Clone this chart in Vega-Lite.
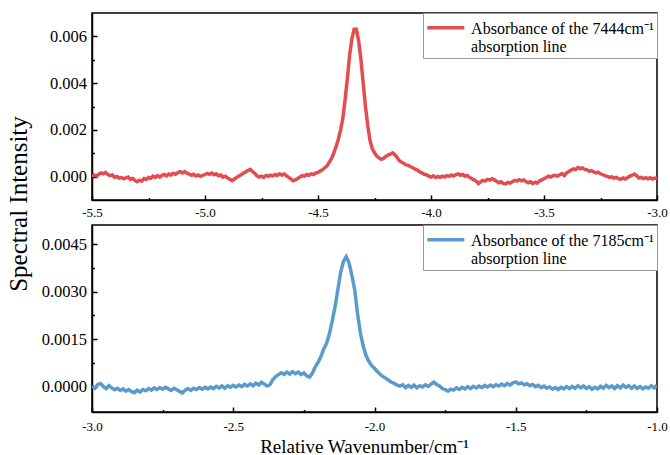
{
  "$schema": "https://vega.github.io/schema/vega-lite/v6.json",
  "padding": {"left": 5, "top": 11, "right": 5, "bottom": 0},
  "background": "white",
  "bounds": "flush",
  "spacing": 25,
  "datasets": {
    "top": [
      {"x":-5.50,"y":0.00002},{"x":-5.49,"y":0.00006},{"x":-5.48,"y":0.00003},{"x":-5.47,"y":0.0001},{"x":-5.46,"y":0.00016},
      {"x":-5.45,"y":0.00012},{"x":-5.44,"y":0.00018},{"x":-5.43,"y":0.00009},{"x":-5.42,"y":0.00004},{"x":-5.41,"y":0.00008},
      {"x":-5.40,"y":-0.00003},{"x":-5.39,"y":0.00001},{"x":-5.38,"y":-0.00006},{"x":-5.37,"y":-0.00004},{"x":-5.36,"y":-0.00009},
      {"x":-5.35,"y":-0.00005},{"x":-5.34,"y":-0.00002},{"x":-5.33,"y":-0.00012},{"x":-5.32,"y":-0.00008},{"x":-5.31,"y":-0.00016},
      {"x":-5.30,"y":-0.00022},{"x":-5.29,"y":-0.00015},{"x":-5.28,"y":-0.00019},{"x":-5.27,"y":-0.00008},{"x":-5.26,"y":-0.00012},
      {"x":-5.25,"y":-0.00004},{"x":-5.24,"y":-0.00007},{"x":-5.23,"y":0.00002},{"x":-5.22,"y":-0.00003},{"x":-5.21,"y":0.00004},
      {"x":-5.20,"y":-0.00002},{"x":-5.19,"y":0.00006},{"x":-5.18,"y":0.00009},{"x":-5.17,"y":0.00003},{"x":-5.16,"y":0.00011},
      {"x":-5.15,"y":0.00007},{"x":-5.14,"y":0.00014},{"x":-5.13,"y":0.0001},{"x":-5.12,"y":0.00017},{"x":-5.11,"y":0.00021},
      {"x":-5.10,"y":0.00016},{"x":-5.09,"y":0.00022},{"x":-5.08,"y":0.00015},{"x":-5.07,"y":0.00011},{"x":-5.06,"y":0.00006},
      {"x":-5.05,"y":0.0001},{"x":-5.04,"y":0.00003},{"x":-5.03,"y":0.00007},{"x":-5.02,"y":0.00001},{"x":-5.01,"y":0.00005},
      {"x":-5.00,"y":0.00009},{"x":-4.99,"y":0.00014},{"x":-4.98,"y":0.0001},{"x":-4.97,"y":0.00015},{"x":-4.96,"y":0.00008},
      {"x":-4.95,"y":0.00012},{"x":-4.94,"y":0.00004},{"x":-4.93,"y":0.00007},{"x":-4.92,"y":-0.00002},{"x":-4.91,"y":0.00002},
      {"x":-4.90,"y":-0.00006},{"x":-4.89,"y":-0.00011},{"x":-4.88,"y":-0.00017},{"x":-4.87,"y":-0.0001},{"x":-4.86,"y":-0.00004},
      {"x":-4.85,"y":0.00003},{"x":-4.84,"y":0.00008},{"x":-4.83,"y":0.00015},{"x":-4.82,"y":0.0002},{"x":-4.81,"y":0.00026},
      {"x":-4.80,"y":0.00031},{"x":-4.79,"y":0.00022},{"x":-4.78,"y":0.00014},{"x":-4.77,"y":0.00003},{"x":-4.76,"y":-0.00002},
      {"x":-4.75,"y":0.00002},{"x":-4.74,"y":-0.00003},{"x":-4.73,"y":0.00005},{"x":-4.72,"y":0.00001},{"x":-4.71,"y":0.00006},
      {"x":-4.70,"y":0.00003},{"x":-4.69,"y":0.00009},{"x":-4.68,"y":0.00005},{"x":-4.67,"y":0.00012},{"x":-4.66,"y":0.00007},
      {"x":-4.65,"y":0.00011},{"x":-4.64,"y":0.00004},{"x":-4.63,"y":-0.00003},{"x":-4.62,"y":-0.0001},{"x":-4.61,"y":-0.00018},
      {"x":-4.60,"y":-0.00014},{"x":-4.59,"y":-0.00008},{"x":-4.58,"y":-0.00002},{"x":-4.57,"y":0.00004},{"x":-4.56,"y":0.00002},
      {"x":-4.55,"y":0.00009},{"x":-4.54,"y":0.00006},{"x":-4.53,"y":0.00012},{"x":-4.52,"y":0.00009},{"x":-4.51,"y":0.00015},
      {"x":-4.50,"y":0.00018},{"x":-4.49,"y":0.00024},{"x":-4.48,"y":0.0003},{"x":-4.47,"y":0.00038},{"x":-4.46,"y":0.00046},
      {"x":-4.45,"y":0.00062},{"x":-4.44,"y":0.00078},{"x":-4.43,"y":0.00102},{"x":-4.42,"y":0.00128},{"x":-4.41,"y":0.0016},
      {"x":-4.40,"y":0.002},{"x":-4.39,"y":0.0025},{"x":-4.38,"y":0.0033},{"x":-4.37,"y":0.0042},{"x":-4.36,"y":0.0052},
      {"x":-4.35,"y":0.0059},{"x":-4.34,"y":0.0063},{"x":-4.33,"y":0.0063},{"x":-4.32,"y":0.0058},{"x":-4.31,"y":0.005},
      {"x":-4.30,"y":0.004},{"x":-4.29,"y":0.003},{"x":-4.28,"y":0.0022},{"x":-4.27,"y":0.00155},{"x":-4.26,"y":0.0012},
      {"x":-4.25,"y":0.00102},{"x":-4.24,"y":0.00088},{"x":-4.23,"y":0.0008},{"x":-4.22,"y":0.00074},{"x":-4.21,"y":0.00078},
      {"x":-4.20,"y":0.00086},{"x":-4.19,"y":0.00092},{"x":-4.18,"y":0.00096},{"x":-4.17,"y":0.00102},{"x":-4.16,"y":0.00094},
      {"x":-4.15,"y":0.00082},{"x":-4.14,"y":0.00068},{"x":-4.13,"y":0.00062},{"x":-4.12,"y":0.00056},{"x":-4.11,"y":0.0005},
      {"x":-4.10,"y":0.00048},{"x":-4.09,"y":0.00042},{"x":-4.08,"y":0.00038},{"x":-4.07,"y":0.00032},{"x":-4.06,"y":0.00028},
      {"x":-4.05,"y":0.0002},{"x":-4.04,"y":0.00016},{"x":-4.03,"y":0.0001},{"x":-4.02,"y":0.00008},{"x":-4.01,"y":0.00002},
      {"x":-4.00,"y":-0.00002},{"x":-3.99,"y":0.00003},{"x":-3.98,"y":-0.00004},{"x":-3.97,"y":0.00001},{"x":-3.96,"y":-0.00003},
      {"x":-3.95,"y":0.00002},{"x":-3.94,"y":-0.00002},{"x":-3.93,"y":0.00004},{"x":-3.92,"y":0.00001},{"x":-3.91,"y":0.00007},
      {"x":-3.90,"y":0.00003},{"x":-3.89,"y":0.00009},{"x":-3.88,"y":0.00012},{"x":-3.87,"y":0.00006},{"x":-3.86,"y":0.00009},
      {"x":-3.85,"y":0.00002},{"x":-3.84,"y":0.00005},{"x":-3.83,"y":-0.00003},{"x":-3.82,"y":-0.00008},{"x":-3.81,"y":-0.00014},
      {"x":-3.80,"y":-0.00019},{"x":-3.79,"y":-0.0003},{"x":-3.78,"y":-0.00022},{"x":-3.77,"y":-0.00016},{"x":-3.76,"y":-0.00019},
      {"x":-3.75,"y":-0.00012},{"x":-3.74,"y":-0.00015},{"x":-3.73,"y":-0.00009},{"x":-3.72,"y":-0.00014},{"x":-3.71,"y":-0.0002},
      {"x":-3.70,"y":-0.00026},{"x":-3.69,"y":-0.00022},{"x":-3.68,"y":-0.00029},{"x":-3.67,"y":-0.00031},{"x":-3.66,"y":-0.00025},
      {"x":-3.65,"y":-0.00028},{"x":-3.64,"y":-0.00022},{"x":-3.63,"y":-0.00016},{"x":-3.62,"y":-0.00019},{"x":-3.61,"y":-0.00013},
      {"x":-3.60,"y":-0.00018},{"x":-3.59,"y":-0.00014},{"x":-3.58,"y":-0.00021},{"x":-3.57,"y":-0.00026},{"x":-3.56,"y":-0.00022},
      {"x":-3.55,"y":-0.0003},{"x":-3.54,"y":-0.00024},{"x":-3.53,"y":-0.00028},{"x":-3.52,"y":-0.00019},{"x":-3.51,"y":-0.00014},
      {"x":-3.50,"y":-0.00009},{"x":-3.49,"y":-0.00004},{"x":-3.48,"y":0.00002},{"x":-3.47,"y":-0.00002},{"x":-3.46,"y":0.00004},
      {"x":-3.45,"y":0.00006},{"x":-3.44,"y":0.00002},{"x":-3.43,"y":0.00008},{"x":-3.42,"y":0.00013},{"x":-3.41,"y":0.00005},
      {"x":-3.40,"y":0.00016},{"x":-3.39,"y":0.00022},{"x":-3.38,"y":0.00028},{"x":-3.37,"y":0.00033},{"x":-3.36,"y":0.0003},
      {"x":-3.35,"y":0.00039},{"x":-3.34,"y":0.00034},{"x":-3.33,"y":0.00037},{"x":-3.32,"y":0.00031},{"x":-3.31,"y":0.00029},
      {"x":-3.30,"y":0.00023},{"x":-3.29,"y":0.00026},{"x":-3.28,"y":0.0002},{"x":-3.27,"y":0.00016},{"x":-3.26,"y":0.00019},
      {"x":-3.25,"y":0.00012},{"x":-3.24,"y":0.00008},{"x":-3.23,"y":0.00004},{"x":-3.22,"y":0.00001},{"x":-3.21,"y":-0.00003},
      {"x":-3.20,"y":-0.00001},{"x":-3.19,"y":-0.00006},{"x":-3.18,"y":-0.00003},{"x":-3.17,"y":-0.00009},{"x":-3.16,"y":-0.00011},
      {"x":-3.15,"y":-0.00006},{"x":-3.14,"y":-0.0001},{"x":-3.13,"y":-0.00004},{"x":-3.12,"y":0.00002},{"x":-3.11,"y":0.00006},
      {"x":-3.10,"y":0.00011},{"x":-3.09,"y":0.00004},{"x":-3.08,"y":-0.00006},{"x":-3.07,"y":-0.00003},{"x":-3.06,"y":-0.00008},
      {"x":-3.05,"y":-0.00004},{"x":-3.04,"y":-0.00009},{"x":-3.03,"y":-0.00005},{"x":-3.02,"y":-0.0001},{"x":-3.01,"y":-0.00006},
      {"x":-3.00,"y":-0.00008}
    ],
    "bottom": [
      {"x":-3.00,"y":0.00002},{"x":-2.99,"y":-0.00005},{"x":-2.98,"y":0.00006},{"x":-2.97,"y":0.0001},{"x":-2.96,"y":0.00001},
      {"x":-2.95,"y":-0.00006},{"x":-2.94,"y":0.00003},{"x":-2.93,"y":-0.00004},{"x":-2.92,"y":-0.0001},{"x":-2.91,"y":-0.00005},
      {"x":-2.90,"y":-0.00012},{"x":-2.89,"y":-0.00007},{"x":-2.88,"y":-0.00014},{"x":-2.87,"y":-0.00009},{"x":-2.86,"y":-0.00016},
      {"x":-2.85,"y":-0.00019},{"x":-2.84,"y":-0.00011},{"x":-2.83,"y":-0.00017},{"x":-2.82,"y":-0.00009},{"x":-2.81,"y":-0.00013},
      {"x":-2.80,"y":-0.00006},{"x":-2.79,"y":-0.00011},{"x":-2.78,"y":-0.00004},{"x":-2.77,"y":-0.00009},{"x":-2.76,"y":-0.00003},
      {"x":-2.75,"y":-0.00008},{"x":-2.74,"y":-0.00002},{"x":-2.73,"y":-0.00007},{"x":-2.72,"y":-0.00012},{"x":-2.71,"y":-0.00005},
      {"x":-2.70,"y":-0.0001},{"x":-2.69,"y":-0.00015},{"x":-2.68,"y":-0.0002},{"x":-2.67,"y":-0.00011},{"x":-2.66,"y":-0.00006},
      {"x":-2.65,"y":-0.00012},{"x":-2.64,"y":-0.00005},{"x":-2.63,"y":-0.00009},{"x":-2.62,"y":-0.00003},{"x":-2.61,"y":-0.00008},
      {"x":-2.60,"y":-0.00002},{"x":-2.59,"y":-0.00007},{"x":-2.58,"y":-0.00001},{"x":-2.57,"y":-0.00006},{"x":-2.56,"y":0.00001},
      {"x":-2.55,"y":-0.00004},{"x":-2.54,"y":0.00002},{"x":-2.53,"y":-0.00005},{"x":-2.52,"y":0.00003},{"x":-2.51,"y":-0.00002},
      {"x":-2.50,"y":0.00004},{"x":-2.49,"y":-0.00001},{"x":-2.48,"y":0.00005},{"x":-2.47,"y":0.0},{"x":-2.46,"y":0.00007},
      {"x":-2.45,"y":0.00002},{"x":-2.44,"y":0.00009},{"x":-2.43,"y":0.00003},{"x":-2.42,"y":0.00011},{"x":-2.41,"y":0.00005},
      {"x":-2.40,"y":0.00014},{"x":-2.39,"y":0.00008},{"x":-2.38,"y":0.00002},{"x":-2.37,"y":0.00006},{"x":-2.36,"y":0.00022},
      {"x":-2.35,"y":0.00032},{"x":-2.34,"y":0.00038},{"x":-2.33,"y":0.00044},{"x":-2.32,"y":0.00039},{"x":-2.31,"y":0.00046},
      {"x":-2.30,"y":0.0004},{"x":-2.29,"y":0.00047},{"x":-2.28,"y":0.00041},{"x":-2.27,"y":0.00046},{"x":-2.26,"y":0.00038},
      {"x":-2.25,"y":0.00043},{"x":-2.24,"y":0.00034},{"x":-2.23,"y":0.0003},{"x":-2.22,"y":0.00042},{"x":-2.21,"y":0.00062},
      {"x":-2.20,"y":0.00076},{"x":-2.19,"y":0.00094},{"x":-2.18,"y":0.00118},{"x":-2.17,"y":0.00136},{"x":-2.16,"y":0.00165},
      {"x":-2.15,"y":0.00205},{"x":-2.14,"y":0.0025},{"x":-2.13,"y":0.00305},{"x":-2.12,"y":0.0036},{"x":-2.11,"y":0.00395},
      {"x":-2.10,"y":0.0041},{"x":-2.09,"y":0.0039},{"x":-2.08,"y":0.0035},{"x":-2.07,"y":0.00305},{"x":-2.06,"y":0.0023},
      {"x":-2.05,"y":0.0017},{"x":-2.04,"y":0.00128},{"x":-2.03,"y":0.00098},{"x":-2.02,"y":0.0008},{"x":-2.01,"y":0.00066},
      {"x":-2.00,"y":0.00058},{"x":-1.99,"y":0.00048},{"x":-1.98,"y":0.00039},{"x":-1.97,"y":0.00032},{"x":-1.96,"y":0.00026},
      {"x":-1.95,"y":0.0002},{"x":-1.94,"y":0.00014},{"x":-1.93,"y":0.0001},{"x":-1.92,"y":0.00005},{"x":-1.91,"y":0.00002},
      {"x":-1.90,"y":0.00006},{"x":-1.89,"y":-0.00003},{"x":-1.88,"y":0.00004},{"x":-1.87,"y":-0.00002},{"x":-1.86,"y":0.00005},
      {"x":-1.85,"y":-0.00004},{"x":-1.84,"y":0.00003},{"x":-1.83,"y":-0.00001},{"x":-1.82,"y":0.00006},{"x":-1.81,"y":0.00001},
      {"x":-1.80,"y":0.00008},{"x":-1.79,"y":0.00014},{"x":-1.78,"y":0.00007},{"x":-1.77,"y":0.00002},{"x":-1.76,"y":-0.00006},
      {"x":-1.75,"y":-0.00009},{"x":-1.74,"y":-0.00014},{"x":-1.73,"y":-0.00008},{"x":-1.72,"y":-0.00011},{"x":-1.71,"y":-0.00004},
      {"x":-1.70,"y":-0.00009},{"x":-1.69,"y":-0.00002},{"x":-1.68,"y":-0.00007},{"x":-1.67,"y":0.0},{"x":-1.66,"y":-0.00006},
      {"x":-1.65,"y":0.00001},{"x":-1.64,"y":-0.00004},{"x":-1.63,"y":0.00002},{"x":-1.62,"y":-0.00003},{"x":-1.61,"y":0.00004},
      {"x":-1.60,"y":-0.00001},{"x":-1.59,"y":0.00005},{"x":-1.58,"y":0.0},{"x":-1.57,"y":0.00006},{"x":-1.56,"y":0.00002},
      {"x":-1.55,"y":0.00008},{"x":-1.54,"y":0.00003},{"x":-1.53,"y":0.0001},{"x":-1.52,"y":0.00005},{"x":-1.51,"y":0.00012},
      {"x":-1.50,"y":0.00015},{"x":-1.49,"y":0.00009},{"x":-1.48,"y":0.00012},{"x":-1.47,"y":0.00006},{"x":-1.46,"y":0.00009},
      {"x":-1.45,"y":0.00003},{"x":-1.44,"y":0.00007},{"x":-1.43,"y":0.0},{"x":-1.42,"y":0.00004},{"x":-1.41,"y":-0.00003},
      {"x":-1.40,"y":0.00002},{"x":-1.39,"y":-0.00005},{"x":-1.38,"y":-0.00001},{"x":-1.37,"y":-0.00008},{"x":-1.36,"y":-0.00003},
      {"x":-1.35,"y":-0.00009},{"x":-1.34,"y":-0.00002},{"x":-1.33,"y":-0.00007},{"x":-1.32,"y":0.0},{"x":-1.31,"y":-0.00006},
      {"x":-1.30,"y":0.00001},{"x":-1.29,"y":-0.00005},{"x":-1.28,"y":0.00003},{"x":-1.27,"y":-0.00004},{"x":-1.26,"y":0.00002},
      {"x":-1.25,"y":-0.00006},{"x":-1.24,"y":0.0},{"x":-1.23,"y":-0.00008},{"x":-1.22,"y":-0.00002},{"x":-1.21,"y":-0.00007},
      {"x":-1.20,"y":0.00001},{"x":-1.19,"y":-0.00005},{"x":-1.18,"y":0.00004},{"x":-1.17,"y":-0.00003},{"x":-1.16,"y":0.00002},
      {"x":-1.15,"y":-0.00006},{"x":-1.14,"y":0.00003},{"x":-1.13,"y":-0.00004},{"x":-1.12,"y":0.00005},{"x":-1.11,"y":-0.00002},
      {"x":-1.10,"y":0.00003},{"x":-1.09,"y":-0.00005},{"x":-1.08,"y":0.00002},{"x":-1.07,"y":-0.00006},{"x":-1.06,"y":0.0},
      {"x":-1.05,"y":-0.00007},{"x":-1.04,"y":-0.00001},{"x":-1.03,"y":-0.00005},{"x":-1.02,"y":0.00003},{"x":-1.01,"y":-0.00004},
      {"x":-1.00,"y":0.00004}
    ]
  },
  "vconcat": [
    {
      "width": 565,
      "height": 187,
      "data": {"name": "top"},
      "mark": {"type": "line", "strokeWidth": 3.5, "clip": true},
      "encoding": {
        "x": {
          "field": "x", "type": "quantitative",
          "scale": {"domain": [-5.5, -3.0], "nice": false, "zero": false},
          "axis": {
            "title": null,
            "values": [-5.5, -5.25, -5, -4.75, -4.5, -4.25, -4, -3.75, -3.5, -3.25, -3],
            "labelExpr": "abs(datum.value*2-round(datum.value*2))<0.001 ? replace(format(datum.value,'.1f'),'\u2212','-') : ''",
            "tickSize": {"condition": {"test": "abs(datum.value*2-round(datum.value*2))<0.001", "value": -5}, "value": -2.5},
            "labelFont": "Liberation Serif",
            "labelFontSize": 13,
            "labelPadding": 11
          }
        },
        "y": {
          "field": "y", "type": "quantitative",
          "scale": {"domain": [-0.001, 0.007], "nice": false, "zero": false},
          "axis": {
            "title": null,
            "values": [0, 0.001, 0.002, 0.003, 0.004, 0.005, 0.006],
            "labelExpr": "abs(datum.value/0.002-round(datum.value/0.002))<0.01 ? format(datum.value,'.3f') : ''",
            "tickSize": {"condition": {"test": "abs(datum.value/0.002-round(datum.value/0.002))<0.01", "value": -5}, "value": -2.5},
            "labelFont": "Liberation Serif",
            "labelFontSize": 16.5,
            "labelPadding": 10.5
          }
        },
        "color": {
          "datum": "Absorbance of the 7444cm⁻¹|absorption line",
          "type": "nominal",
          "scale": {"range": ["#E34C50"]},
          "legend": {
            "labelExpr": "split(datum.label, '|')"
          }
        }
      }
    },
    {
      "width": 565,
      "height": 187,
      "data": {"name": "bottom"},
      "mark": {"type": "line", "strokeWidth": 3.5, "clip": true},
      "encoding": {
        "x": {
          "field": "x", "type": "quantitative",
          "scale": {"domain": [-3.0, -1.0], "nice": false, "zero": false},
          "axis": {
            "title": "Relative Wavenumber/cm⁻¹",
            "titleFont": "Liberation Serif",
            "titleFontSize": 19,
            "titleX": 272,
            "titleY": 40,
            "titleBaseline": "alphabetic",
            "values": [-3, -2.75, -2.5, -2.25, -2, -1.75, -1.5, -1.25, -1],
            "labelExpr": "abs(datum.value*2-round(datum.value*2))<0.001 ? replace(format(datum.value,'.1f'),'\u2212','-') : ''",
            "tickSize": {"condition": {"test": "abs(datum.value*2-round(datum.value*2))<0.001", "value": -5}, "value": -2.5},
            "labelFont": "Liberation Serif",
            "labelFontSize": 13,
            "labelPadding": 13
          }
        },
        "y": {
          "field": "y", "type": "quantitative",
          "scale": {"domain": [-0.0008, 0.0051], "nice": false, "zero": false},
          "axis": {
            "title": "Spectral Intensity",
            "titleFont": "Liberation Serif",
            "titleFontSize": 25,
            "titleAngle": -90,
            "titleX": -65.5,
            "titleY": -21.5,
            "titleAlign": "center",
            "titleBaseline": "alphabetic",
            "values": [0, 0.00075, 0.0015, 0.00225, 0.003, 0.00375, 0.0045],
            "labelExpr": "abs(datum.value/0.0015-round(datum.value/0.0015))<0.01 ? format(datum.value,'.4f') : ''",
            "tickSize": {"condition": {"test": "abs(datum.value/0.0015-round(datum.value/0.0015))<0.01", "value": -5}, "value": -2.5},
            "labelFont": "Liberation Serif",
            "labelFontSize": 16.5,
            "labelPadding": 10.5
          }
        },
        "color": {
          "datum": "Absorbance of the 7185cm⁻¹|absorption line",
          "type": "nominal",
          "scale": {"range": ["#5C9BC9"]},
          "legend": {
            "labelExpr": "split(datum.label, '|')"
          }
        }
      }
    }
  ],
  "resolve": {"scale": {"color": "independent"}, "legend": {"color": "independent"}},
  "config": {
    "font": "Liberation Serif",
    "view": {"stroke": "black", "strokeWidth": 1.5},
    "axis": {
      "domainColor": "black", "domainWidth": 1.5,
      "tickColor": "black", "tickWidth": 1.5,
      "labelColor": "black", "labelFont": "Liberation Serif",
      "titleColor": "black", "titleFont": "Liberation Serif", "titleFontWeight": "normal",
      "grid": false, "labelFlush": false, "labelOverlap": false
    },
    "legend": {
      "title": null,
      "orient": "top-right",
      "offset": 0,
      "strokeColor": "#999999",
      "fillColor": "white",
      "padding": 3,
      "cornerRadius": 0,
      "symbolType": "M-1.178,-0.363H1.178",
      "symbolStrokeWidth": 3.5,
      "symbolSize": 986,
      "symbolOffset": 2.3,
      "labelFont": "Liberation Serif",
      "labelFontSize": 16,
      "labelColor": "black",
      "labelLimit": 0,
      "labelOffset": 7.8,
      "labelBaseline": "alphabetic"
    }
  }
}
